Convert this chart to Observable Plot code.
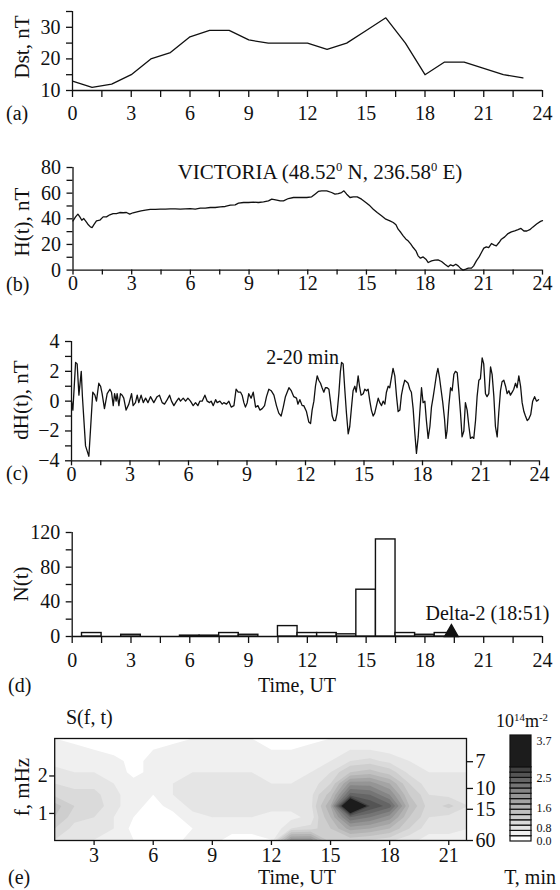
<!DOCTYPE html>
<html><head><meta charset="utf-8">
<script src="https://cdn.jsdelivr.net/npm/d3@7"></script>
<script src="https://cdn.jsdelivr.net/npm/@observablehq/plot@0.6"></script>
<style>
html,body{margin:0;padding:0;background:#fff;}
#root{position:relative;width:560px;height:890px;overflow:hidden;font-family:"Liberation Serif","Times New Roman",serif;color:#111;}
#root svg{position:absolute;left:0;font-family:"Liberation Serif","Times New Roman",serif !important;}
#root svg text{font-family:"Liberation Serif","Times New Roman",serif !important;}
.lbl{position:absolute;font-size:20px;line-height:1;white-space:nowrap;}
.lbl sup{font-size:0.6em;vertical-align:0.6em;line-height:0;}
</style></head><body><div id="root"></div>
<script>
// ---------- DATA ----------
const xMajorTicks = [0, 3, 6, 9, 12, 15, 18, 21, 24];
const xMinorTicks = [1.5, 4.5, 7.5, 10.5, 13.5, 16.5, 19.5, 22.5];

// (a) Dst, hourly
const dstHour = [0,1,2,3,4,5,6,7,8,9,10,11,12,13,14,15,16,17,18,19,20,21,22,23];
const dstValue = [13,11,12,15,20,22,27,29,29,26,25,25,25,23,25,29,33,25,15,19,19,17,15,14];
const dstTicks = [10, 20, 30];
const dstMinor = [15, 25, 35];

// (b) H(t), VICTORIA
const hTime = [0.00,0.13,0.25,0.35,0.45,0.55,0.64,0.76,0.89,0.98,1.06,1.20,1.37,1.54,1.71,1.88,2.05,2.22,2.39,2.56,2.73,2.90,3.07,3.27,3.48,3.70,3.95,4.21,4.46,4.72,4.97,5.23,5.48,5.74,5.99,6.25,6.51,6.76,7.02,7.27,7.53,7.78,8.04,8.29,8.46,8.72,8.97,9.23,9.48,9.74,9.99,10.16,10.42,10.59,10.76,11.01,11.27,11.61,11.95,12.20,12.37,12.54,12.71,12.97,13.22,13.39,13.56,13.73,13.85,13.99,14.16,14.33,14.53,14.75,14.97,15.18,15.35,15.55,15.77,15.99,16.20,16.37,16.51,16.62,16.76,16.88,17.02,17.13,17.27,17.39,17.53,17.64,17.76,17.90,18.04,18.16,18.33,18.50,18.66,18.84,19.01,19.18,19.30,19.43,19.57,19.69,19.80,19.94,20.08,20.21,20.37,20.48,20.62,20.76,20.88,21.00,21.13,21.25,21.39,21.51,21.64,21.78,21.90,22.07,22.24,22.41,22.58,22.75,22.90,23.05,23.20,23.35,23.50,23.70,23.90,24.00];
const hValue = [38.4,41.5,43.6,41.5,38.9,40.2,38.4,35.8,33.7,33.2,35.3,38.4,38.9,41.5,41.5,43.1,44.1,44.1,44.9,44.7,44.9,43.6,44.7,45.4,46.2,46.7,47.3,47.3,47.5,47.5,47.8,47.8,47.5,47.8,48.0,47.5,48.3,48.3,48.8,48.8,49.3,49.6,50.6,50.9,52.2,52.7,52.7,53.0,52.7,53.2,54.0,55.3,54.5,54.0,54.0,55.8,56.6,56.6,56.6,57.1,59.2,61.3,61.8,61.8,60.5,59.2,59.7,60.5,61.8,59.2,56.6,57.1,57.1,55.3,52.7,50.1,47.5,44.9,42.3,39.7,38.4,37.1,35.3,31.9,29.3,26.7,24.1,22.8,20.2,17.6,15.0,11.1,9.3,10.3,8.5,5.9,7.2,7.7,8.0,6.7,4.6,2.6,4.1,3.3,4.6,3.3,1.5,0.0,0.7,1.5,1.5,3.3,7.2,10.3,13.7,17.1,18.1,17.6,20.7,19.7,18.9,21.5,24.1,25.9,28.5,29.8,30.6,31.5,32.5,30.5,30.5,31.5,33.5,36.0,38.0,38.5];
const hTicks = [0, 20, 40, 60, 80];
const hMinor = [10, 30, 50, 70];

// (c) dH(t), 2-20 min band
const dhTime = [0.00,0.07,0.21,0.29,0.38,0.50,0.56,0.72,0.89,0.97,1.09,1.20,1.28,1.40,1.49,1.57,1.69,1.83,1.97,2.05,2.14,2.21,2.29,2.34,2.43,2.51,2.60,2.68,2.80,2.94,3.08,3.16,3.28,3.37,3.45,3.57,3.68,3.80,3.92,4.05,4.22,4.39,4.51,4.65,4.77,4.91,5.03,5.13,5.25,5.39,5.50,5.59,5.73,5.85,5.97,6.10,6.24,6.36,6.48,6.58,6.70,6.84,6.96,7.08,7.16,7.27,7.39,7.47,7.61,7.73,7.81,7.95,8.07,8.19,8.33,8.44,8.55,8.67,8.75,8.84,8.92,9.01,9.09,9.21,9.32,9.44,9.56,9.66,9.78,9.90,10.00,10.12,10.24,10.38,10.51,10.63,10.75,10.86,10.97,11.15,11.27,11.40,11.54,11.61,11.71,11.83,11.91,12.05,12.17,12.26,12.34,12.43,12.51,12.60,12.68,12.77,12.85,12.94,13.02,13.11,13.20,13.28,13.37,13.45,13.54,13.62,13.71,13.79,13.85,13.93,14.02,14.10,14.19,14.27,14.36,14.44,14.53,14.60,14.70,14.77,14.85,14.96,15.04,15.13,15.21,15.30,15.38,15.47,15.55,15.64,15.73,15.81,15.90,15.98,16.07,16.15,16.24,16.32,16.41,16.49,16.58,16.67,16.75,16.84,16.92,17.01,17.09,17.18,17.26,17.35,17.43,17.52,17.61,17.69,17.78,17.86,17.95,18.03,18.12,18.20,18.29,18.38,18.46,18.55,18.63,18.72,18.79,18.87,18.96,19.04,19.13,19.20,19.26,19.35,19.44,19.52,19.61,19.69,19.78,19.86,19.95,20.03,20.12,20.20,20.29,20.38,20.46,20.55,20.63,20.72,20.80,20.89,20.97,21.06,21.14,21.23,21.31,21.40,21.49,21.57,21.66,21.74,21.83,21.91,22.00,22.08,22.17,22.26,22.34,22.43,22.51,22.60,22.68,22.77,22.85,22.94,23.03,23.11,23.20,23.28,23.37,23.45,23.55,23.65,23.75,23.85,23.95];
const dhValue = [0.0,-0.6,2.6,2.5,0.4,2.0,0.3,-3.0,-3.7,-2.0,0.6,0.4,0.0,1.2,1.0,0.5,-0.5,0.5,0.8,0.6,-0.3,0.5,0.0,0.5,-0.3,0.5,0.4,0.2,-0.6,-0.2,0.5,-0.3,-0.1,0.4,-0.1,0.4,-0.1,0.2,-0.1,0.3,-0.1,0.3,0.4,-0.1,-0.2,0.1,0.4,0.0,-0.3,0.0,0.2,0.0,0.2,0.0,0.2,0.0,-0.3,-0.1,-0.3,0.0,0.0,0.4,0.0,-0.1,0.0,-0.3,0.1,-0.1,0.0,-0.2,-0.1,-0.2,0.0,-0.4,-0.3,0.8,0.6,0.6,0.4,-0.1,-0.4,-0.1,0.5,0.2,0.6,-0.4,-0.3,-0.6,-0.5,-0.3,0.3,0.8,0.7,0.4,-0.3,-0.8,-1.0,-0.4,0.3,0.9,0.7,0.3,0.2,-0.2,0.1,-0.3,-0.3,-0.7,-1.4,-1.5,-0.6,0.0,1.0,1.7,1.4,1.2,0.9,0.6,0.9,0.9,0.8,0.0,-1.0,-1.3,-1.3,-0.8,0.5,2.0,2.6,2.5,0.7,-0.8,-2.2,-1.7,-0.4,0.7,1.0,0.6,1.7,1.0,0.4,0.5,0.8,0.7,0.8,0.0,-0.6,-1.0,-0.8,-0.3,0.2,-0.1,-0.3,0.0,-0.2,0.6,1.0,0.9,1.6,2.2,1.7,0.3,-0.7,-0.6,0.4,1.0,1.4,1.3,1.2,0.8,0.6,-0.5,-2.2,-3.5,-2.4,-0.8,0.9,-0.1,0.0,-1.3,-2.5,-1.7,-0.4,0.3,1.0,1.8,2.2,1.6,0.7,-0.1,-1.2,-2.5,-2.0,-0.3,0.9,0.7,1.8,2.0,1.9,0.7,-0.8,-2.4,-2.0,-0.1,-0.6,-1.7,-2.5,-2.4,-2.5,-1.3,0.3,1.4,1.5,2.9,2.5,0.5,0.3,0.5,2.3,1.8,0.3,-1.7,-2.4,-0.8,0.7,1.3,1.4,1.0,0.5,0.7,0.4,0.6,0.8,1.2,0.9,1.7,1.0,-0.1,-0.7,-1.0,-1.3,-1.2,-0.9,0.0,0.3,0.0,0.1];
const dhTicks = [-4, -2, 0, 2, 4];
const dhMinor = [-3, -1, 1, 3];
const bandLabel = ["2-20 min"];
const bandLabelAt = [[11.85, 2.93]];

// (d) N(t), hourly counts (bars centred on the hour)
const nHour = [1,2,3,4,5,6,7,8,9,10,11,12,13,14,15,16,17,18,19,20,21,22,23];
const nCount = [4,0,2,0,0,1,1,4,2,0,12,4,4,2.5,54,112,4,2,4,0,0,0,0];
const nTicks = [0, 40, 80, 120];
const nMinor = [20, 60, 100];
const eventTime = [19.35];
const eventLabel = ["Delta-2 (18:51)"];
const eventLabelAt = [[18.03, 26.5]];

// (e) S(f,t) spectrogram grid: rows = frequency (mHz, ascending), columns = hour 1..22
const sHours = [1,2,3,4,5,6,7,8,9,10,11,12,13,14,15,16,17,18,19,20,21,22];
const sFreqs = [0.3,0.6,0.9,1.2,1.5,1.8,2.1,2.4,2.7,3.0];
const sGrid = [
  [0.45,0.3,0.3,0.25,0.15,0.1,0.1,0.2,0.2,0.1,0.1,0.15,1.5,1.5,0.6,0.7,0.6,0.5,0.35,0.25,0.25,0.25],
  [0.6,0.4,0.4,0.3,0.1,0.1,0.1,0.15,0.2,0.2,0.2,0.15,0.45,0.5,0.8,1.3,1.2,1.0,0.6,0.35,0.35,0.3],
  [0.8,0.5,0.45,0.3,0.15,0.1,0.1,0.25,0.3,0.3,0.3,0.25,0.25,0.35,1.0,2.0,1.8,1.5,0.8,0.45,0.4,0.35],
  [0.9,0.6,0.55,0.35,0.2,0.1,0.2,0.35,0.4,0.4,0.4,0.35,0.35,0.4,1.2,3.7,2.4,2.1,1.0,0.5,0.65,0.45],
  [0.55,0.5,0.5,0.35,0.2,0.15,0.3,0.4,0.4,0.4,0.4,0.35,0.35,0.4,0.9,2.1,2.0,1.6,0.8,0.45,0.4,0.35],
  [0.45,0.4,0.4,0.3,0.2,0.25,0.3,0.35,0.35,0.4,0.35,0.3,0.3,0.35,0.6,1.5,1.5,1.2,0.6,0.35,0.3,0.3],
  [0.35,0.3,0.3,0.25,0.1,0.2,0.25,0.3,0.3,0.3,0.3,0.25,0.25,0.3,0.45,0.8,0.9,0.7,0.4,0.3,0.3,0.3],
  [0.25,0.25,0.25,0.2,0.1,0.2,0.2,0.25,0.25,0.25,0.25,0.2,0.2,0.25,0.3,0.45,0.5,0.4,0.3,0.25,0.25,0.25],
  [0.2,0.2,0.15,0.1,0.1,0.15,0.2,0.2,0.2,0.2,0.2,0.15,0.15,0.2,0.2,0.3,0.3,0.25,0.2,0.2,0.2,0.2],
  [0.15,0.1,0.1,0.1,0.05,0.1,0.1,0.15,0.15,0.15,0.15,0.1,0.1,0.1,0.15,0.2,0.2,0.15,0.15,0.15,0.2,0.2]
];
const sTimeTicks = [3, 6, 9, 12, 15, 18, 21];
const sFreqTicks = [1, 2];
const periodTicks = [7, 10, 15, 60];      // T, min
const levels = [0, 0.15, 0.3, 0.45, 0.6, 0.8, 1.0, 1.2, 1.4, 1.6, 1.8, 2.0, 2.2, 2.4, 2.6];
const levelGrays = ["#ffffff","#f0f0f0","#e5e5e5","#dadada","#cecece","#c1c1c1","#b3b3b3","#a4a4a4","#959595","#858585","#757575","#656565","#545454","#424242","#1c1c1c"];
const cbBoxSpan = [1,1,1,1,1,1,1,1,1,1,1,1,1,1,6];
const cbTickLabels = ["0.0", "0.8", "1.6", "2.5", "3.7"];
const cbTickAt = [0, 2.6, 6.2, 12, 19];

// ---------- RENDER ----------
const root = document.getElementById("root");
const FONT = "'Liberation Serif', 'Times New Roman', serif";
const baseStyle = {fontFamily: FONT, fontSize: "20px", background: "transparent", overflow: "visible", color: "#111"};

function panel(box, opts) {
  const mt = 30, mb = 50;
  const svg = Plot.plot({
    width: 560, style: baseStyle, ...opts,
    marginLeft: box.left, marginRight: 560 - box.right, marginTop: mt, marginBottom: mb,
    height: (box.bottom - box.top) + mt + mb
  });
  svg.style.top = (box.top - mt) + "px";
  root.appendChild(svg);
  return svg;
}
function label(html, x, y, {anchor = "middle", rotate = false, size = 20} = {}) {
  const d = document.createElement("div");
  d.className = "lbl";
  d.innerHTML = html;
  d.style.left = x + "px"; d.style.top = y + "px"; d.style.fontSize = size + "px";
  const tx = anchor === "start" ? "0" : anchor === "end" ? "-100%" : "-50%";
  d.style.transform = rotate ? "translate(-50%,-50%) rotate(-90deg)" : `translate(${tx},-50%)`;
  root.appendChild(d);
}
const SW = 1.3;
function timeAxes(tickSize, pad) {
  return [
    Plot.axisX({ticks: xMajorTicks, tickSize, tickPadding: pad, label: null, strokeWidth: SW}),
    Plot.axisX({ticks: xMinorTicks, tickSize, tickFormat: () => "", label: null, strokeWidth: SW})
  ];
}
function valueAxes(major, minor) {
  return [
    Plot.axisY({ticks: major, tickSize: 6, tickPadding: 6, label: null, strokeWidth: SW}),
    Plot.axisY({ticks: minor, tickSize: 6, tickFormat: () => "", label: null, strokeWidth: SW})
  ];
}

// (a)
const dst = dstHour.map((h, i) => ({h, v: dstValue[i]}));
panel({left: 72, right: 542, top: 11, bottom: 90}, {
  x: {domain: [0, 24]}, y: {domain: [10, 35]},
  marks: [
    ...timeAxes(7, 8), ...valueAxes(dstTicks, dstMinor),
    Plot.ruleX([0], {strokeWidth: SW}), Plot.ruleY([10], {strokeWidth: SW}),
    Plot.line(dst, {x: "h", y: "v", strokeWidth: 1.3, stroke: "#111"})
  ]
});

// (b)
const hData = hTime.map((t, i) => ({t, v: hValue[i]}));
panel({left: 72.5, right: 542, top: 166.7, bottom: 269.3}, {
  x: {domain: [0, 24]}, y: {domain: [0, 80]},
  marks: [
    ...timeAxes(5, 1), ...valueAxes(hTicks, hMinor),
    Plot.ruleX([0], {strokeWidth: SW}), Plot.ruleY([0], {strokeWidth: SW}),
    Plot.line(hData, {x: "t", y: "v", strokeWidth: 1.3, stroke: "#111"})
  ]
});

// (c)
const dhData = dhTime.map((t, i) => ({t, v: dhValue[i]}));
panel({left: 71, right: 539, top: 340.7, bottom: 460}, {
  x: {domain: [0, 24]}, y: {domain: [-4, 4]},
  marks: [
    ...timeAxes(5, 1), ...valueAxes(dhTicks, dhMinor),
    Plot.ruleX([0], {strokeWidth: SW}), Plot.ruleY([-4], {strokeWidth: SW}),
    Plot.line(dhData, {x: "t", y: "v", strokeWidth: 1.3, stroke: "#111"}),
    Plot.text(bandLabel, {x: (d, i) => bandLabelAt[i][0], y: (d, i) => bandLabelAt[i][1], text: d => d, fontSize: 20, fontFamily: FONT})
  ]
});

// (d)
const nData = nHour.map((h, i) => ({h, n: nCount[i]}));
panel({left: 71.7, right: 542, top: 531.7, bottom: 635.7}, {
  x: {domain: [0, 24]}, y: {domain: [0, 120]},
  marks: [
    ...timeAxes(7, 9), ...valueAxes(nTicks, nMinor),
    Plot.ruleX([0], {strokeWidth: SW}), Plot.ruleY([0], {strokeWidth: SW}),
    Plot.rectY(nData, {x1: d => d.h - 0.5, x2: d => d.h + 0.5, y: "n", fill: "white", stroke: "#111", strokeWidth: 1.4}),
    Plot.dot(eventTime, {x: d => d, y: 0, symbol: "triangle", r: 5, fill: "#111", stroke: "#111", dy: -4}),
    Plot.text(eventLabel, {x: (d, i) => eventLabelAt[i][0], y: (d, i) => eventLabelAt[i][1], text: d => d, textAnchor: "start", fontSize: 20, fontFamily: FONT})
  ]
});

// (e)
const colorScale = {type: "threshold", domain: levels.slice(1), range: levelGrays};
const sFlat = sGrid.flat();
const dT = sHours[1] - sHours[0], dF = sFreqs[1] - sFreqs[0];
panel({left: 54.2, right: 466, top: 737.5, bottom: 839.5}, {
  x: {domain: [1, 21.9]}, y: {domain: [0.278, 3]}, color: colorScale,
  marks: [
    Plot.contour(sFlat, {
      width: sHours.length, height: sFreqs.length,
      x1: sHours[0] - dT / 2, x2: sHours[sHours.length - 1] + dT / 2,
      y1: sFreqs[0] - dF / 2, y2: sFreqs[sFreqs.length - 1] + dF / 2,
      fill: Plot.identity, thresholds: levels, clip: true
    }),
    Plot.frame({strokeWidth: SW, stroke: "#111"}),
    Plot.axisX({ticks: sTimeTicks, tickSize: 5, tickPadding: 2, label: null, strokeWidth: SW}),
    Plot.axisY({ticks: sFreqTicks, tickFormat: d => String(d), tickSize: 5, tickPadding: 2, label: null, strokeWidth: SW}),
    Plot.axisY({anchor: "right", ticks: periodTicks.map(T => 1000 / (60 * T)), tickFormat: f => String(Math.round(1000 / (60 * f))), tickSize: 6, tickPadding: 3, label: null, strokeWidth: SW})
  ]
});

// colour bar
const cbData = [];
let acc = 0;
levels.forEach((lv, i) => { cbData.push({lv, lo: acc, hi: acc + cbBoxSpan[i]}); acc += cbBoxSpan[i]; });
panel({left: 510, right: 531, top: 735, bottom: 841}, {
  x: {domain: [0, 1], axis: null}, y: {domain: [0, acc], axis: null}, color: colorScale,
  marks: [
    Plot.rect(cbData, {x1: 0, x2: 1, y1: "lo", y2: "hi", fill: "lv", stroke: "#111", strokeWidth: 1.2}),
    Plot.text(cbTickLabels, {x: 1, y: (d, i) => cbTickAt[i], text: d => d, textAnchor: "start", dx: 5, fontSize: 12, fontFamily: FONT})
  ]
});

// ---------- TEXT ----------
label("Dst, nT", 22, 47, {rotate: true, size: 21});
label("(a)", 6, 113, {anchor: "start"});
label("VICTORIA (48.52<sup>0</sup> N, 236.58<sup>0</sup> E)", 320, 172, {size: 21});
label("H(t), nT", 22, 222, {rotate: true, size: 21});
label("(b)", 6, 284, {anchor: "start"});
label("dH(t), nT", 21, 400, {rotate: true, size: 21});
label("(c)", 6, 473, {anchor: "start"});
label("N(t)", 21, 584, {rotate: true, size: 21});
label("(d)", 8, 685, {anchor: "start"});
label("Time, UT", 297, 685);
label("S(f, t)", 66, 717, {anchor: "start"});
label("10<sup>14</sup>m<sup>-2</sup>", 522, 721, {size: 18});
label("f, mHz", 22, 787, {rotate: true, size: 21});
label("(e)", 8, 877, {anchor: "start"});
label("Time, UT", 297, 877);
label("T, min", 556, 877, {anchor: "end"});
</script></body></html>
